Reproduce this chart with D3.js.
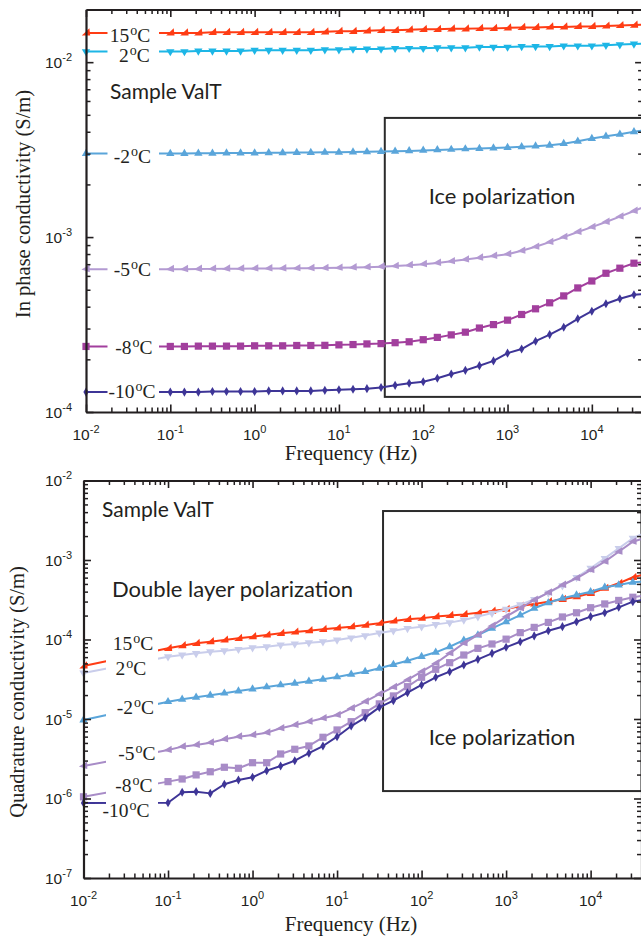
<!DOCTYPE html>
<html>
<head>
<meta charset="utf-8">
<script src="https://cdn.jsdelivr.net/npm/d3@7"></script>
<style>
  body { margin: 0; background: #fff; }
  svg { display: block; }
</style>
</head>
<body>
<svg id="chart" width="641" height="940"></svg>
<script>
// ---------- data ----------
// measurement frequencies (Hz)
const freqs = [0.01, 0.1, 0.147, 0.215, 0.316, 0.464, 0.681,
  1, 1.47, 2.15, 3.16, 4.64, 6.81,
  10, 14.7, 21.5, 31.6, 46.4, 68.1,
  100, 147, 215, 316, 464, 681,
  1000, 1470, 2150, 3160, 4640, 6810,
  10000, 14700, 21500, 31600, 46400];

const temperatures = ["15", "2", "-2", "-5", "-8", "-10"];

// in-phase conductivity (S/m)
const inPhase15 = [0.0147, 0.0147, 0.0147, 0.0147, 0.0148, 0.0148, 0.0148,
  0.0148, 0.0148, 0.0148, 0.0148, 0.0148, 0.0149,
  0.0150, 0.0150, 0.0151, 0.0152, 0.0152, 0.0153,
  0.0154, 0.0154, 0.0155, 0.0155, 0.0156, 0.0156,
  0.0157, 0.0158, 0.0158, 0.0159, 0.0159, 0.0160,
  0.0160, 0.0161, 0.0162, 0.0163, 0.0164];
const inPhase2 = [0.0115, 0.0115, 0.0115, 0.0116, 0.0116, 0.0116, 0.0116,
  0.0117, 0.0117, 0.0117, 0.0117, 0.0117, 0.0118,
  0.0118, 0.0119, 0.0119, 0.0119, 0.0120, 0.0120,
  0.0120, 0.0121, 0.0121, 0.0121, 0.0122, 0.0122,
  0.0122, 0.0123, 0.0123, 0.0123, 0.0124, 0.0124,
  0.0124, 0.0125, 0.0126, 0.0127, 0.0128];
const inPhaseM2 = [0.00300, 0.00300, 0.00300, 0.00301, 0.00301, 0.00302, 0.00302,
  0.00302, 0.00303, 0.00303, 0.00304, 0.00304, 0.00305,
  0.00305, 0.00306, 0.00307, 0.00308, 0.00309, 0.00311,
  0.00313, 0.00315, 0.00317, 0.00319, 0.00321, 0.00323,
  0.00325, 0.00328, 0.00331, 0.00335, 0.00342, 0.00353,
  0.00366, 0.00377, 0.00387, 0.00400, 0.00412];
const inPhaseM5 = [6.55e-4, 6.55e-4, 6.55e-4, 6.57e-4, 6.58e-4, 6.59e-4, 6.60e-4,
  6.61e-4, 6.62e-4, 6.62e-4, 6.63e-4, 6.64e-4, 6.65e-4,
  6.67e-4, 6.70e-4, 6.73e-4, 6.77e-4, 6.83e-4, 6.90e-4,
  7.00e-4, 7.12e-4, 7.27e-4, 7.44e-4, 7.62e-4, 7.80e-4,
  7.98e-4, 8.35e-4, 8.80e-4, 9.36e-4, 1.00e-3, 1.07e-3,
  1.14e-3, 1.22e-3, 1.31e-3, 1.41e-3, 1.52e-3];
const inPhaseM8 = [2.37e-4, 2.37e-4, 2.37e-4, 2.38e-4, 2.38e-4, 2.38e-4, 2.38e-4,
  2.39e-4, 2.39e-4, 2.39e-4, 2.40e-4, 2.40e-4, 2.405e-4,
  2.42e-4, 2.43e-4, 2.45e-4, 2.46e-4, 2.49e-4, 2.52e-4,
  2.59e-4, 2.67e-4, 2.76e-4, 2.86e-4, 3.02e-4, 3.16e-4,
  3.35e-4, 3.61e-4, 3.89e-4, 4.21e-4, 4.61e-4, 5.12e-4,
  5.61e-4, 6.21e-4, 6.64e-4, 7.09e-4, 7.20e-4];
const inPhaseM10 = [1.30e-4, 1.30e-4, 1.30e-4, 1.30e-4, 1.31e-4, 1.31e-4, 1.31e-4,
  1.31e-4, 1.32e-4, 1.32e-4, 1.32e-4, 1.32e-4, 1.33e-4,
  1.34e-4, 1.35e-4, 1.36e-4, 1.38e-4, 1.42e-4, 1.46e-4,
  1.49e-4, 1.56e-4, 1.65e-4, 1.73e-4, 1.84e-4, 1.96e-4,
  2.17e-4, 2.29e-4, 2.54e-4, 2.77e-4, 3.05e-4, 3.41e-4,
  3.77e-4, 4.16e-4, 4.44e-4, 4.68e-4, 4.75e-4];

// quadrature conductivity (S/m)
const quad15 = [4.65e-5, 7.74e-5, 8.36e-5, 8.96e-5, 9.38e-5, 9.86e-5, 1.035e-4,
  1.084e-4, 1.14e-4, 1.197e-4, 1.242e-4, 1.29e-4, 1.343e-4,
  1.396e-4, 1.45e-4, 1.52e-4, 1.60e-4, 1.71e-4, 1.795e-4,
  1.85e-4, 1.94e-4, 2.01e-4, 2.07e-4, 2.17e-4, 2.28e-4,
  2.40e-4, 2.64e-4, 2.80e-4, 2.99e-4, 3.20e-4, 3.45e-4,
  3.81e-4, 4.41e-4, 5.09e-4, 6.06e-4, 6.70e-4];
const quad2 = [3.8e-5, 6.08e-5, 6.38e-5, 6.70e-5, 7.03e-5, 7.23e-5, 7.53e-5,
  7.89e-5, 8.12e-5, 8.53e-5, 8.78e-5, 9.12e-5, 9.38e-5,
  9.86e-5, 1.05e-4, 1.12e-4, 1.21e-4, 1.29e-4, 1.38e-4,
  1.45e-4, 1.55e-4, 1.63e-4, 1.76e-4, 1.94e-4, 2.15e-4,
  2.40e-4, 2.75e-4, 3.20e-4, 3.85e-4, 4.75e-4, 6.05e-4,
  7.87e-4, 1.05e-3, 1.40e-3, 1.88e-3, 2.25e-3];
const quadM2 = [9.7e-6, 1.65e-5, 1.77e-5, 1.875e-5, 1.99e-5, 2.11e-5, 2.25e-5,
  2.38e-5, 2.53e-5, 2.68e-5, 2.81e-5, 2.98e-5, 3.16e-5,
  3.38e-5, 3.65e-5, 3.94e-5, 4.35e-5, 4.85e-5, 5.4e-5,
  6.1e-5, 6.9e-5, 8.1e-5, 9.8e-5, 1.14e-4, 1.38e-4,
  1.67e-4, 2.03e-4, 2.47e-4, 2.90e-4, 3.30e-4, 3.63e-4,
  3.99e-4, 4.54e-4, 4.85e-4, 5.24e-4, 5.40e-4];
const quadM5 = [2.56e-6, 4.07e-6, 4.49e-6, 4.71e-6, 5.04e-6, 5.56e-6, 5.99e-6,
  6.29e-6, 6.73e-6, 7.64e-6, 8.41e-6, 9.25e-6, 1.02e-5,
  1.12e-5, 1.36e-5, 1.65e-5, 2.05e-5, 2.51e-5, 3.10e-5,
  3.94e-5, 5.02e-5, 6.70e-5, 8.96e-5, 1.14e-4, 1.48e-4,
  1.94e-4, 2.47e-4, 3.14e-4, 3.88e-4, 4.85e-4, 5.89e-4,
  7.48e-4, 9.53e-4, 1.27e-3, 1.70e-3, 1.93e-3];
const quadM8 = [1.05e-6, 1.63e-6, 1.76e-6, 1.98e-6, 2.17e-6, 2.47e-6, 2.40e-6,
  2.82e-6, 2.82e-6, 3.63e-6, 4.16e-6, 4.58e-6, 5.89e-6,
  7.28e-6, 9.25e-6, 1.20e-5, 1.55e-5, 1.95e-5, 2.55e-5,
  3.35e-5, 4.22e-5, 5.11e-5, 6.38e-5, 7.74e-5, 8.78e-5,
  1.01e-4, 1.22e-4, 1.42e-4, 1.64e-4, 1.92e-4, 2.17e-4,
  2.51e-4, 2.80e-4, 3.10e-4, 3.40e-4, 3.63e-4];
const quadM10 = [8.8e-7, 8.85e-7, 1.20e-6, 1.22e-6, 1.16e-6, 1.51e-6, 1.71e-6,
  1.85e-6, 2.24e-6, 2.56e-6, 2.99e-6, 3.71e-6, 4.57e-6,
  5.99e-6, 8.16e-6, 1.04e-5, 1.40e-5, 1.70e-5, 2.14e-5,
  2.68e-5, 3.35e-5, 3.94e-5, 4.78e-5, 5.63e-5, 6.70e-5,
  7.98e-5, 9.38e-5, 1.11e-4, 1.29e-4, 1.45e-4, 1.67e-4,
  1.94e-4, 2.17e-4, 2.54e-4, 2.99e-4, 3.20e-4];

// axis decades (powers of ten)
const xTickExps = [-2, -1, 0, 1, 2, 3, 4];
const yTickExpsInPhase = [-4, -3, -2];
const yTickExpsQuad = [-7, -6, -5, -4, -3, -2];

// ---------- styling ----------
const ink = "#231f20";
const sansFont = "Lato, 'Open Sans', sans-serif";
const serifFont = "'Liberation Serif', 'DejaVu Serif', serif";
const tickFont = "'Liberation Sans', Arial, sans-serif";

const shapes = {
  flagRight: "M-4.2,2.6L4.2,2.6L3.4,-4.6Z",
  flagLeft: "M-4.6,0.4L3.6,-4.4L3.8,3Z",
  up: d3.symbol(d3.symbolTriangle, 30)(),
  down: d3.symbol(d3.symbolTriangle, 30)(),
  square: d3.symbol(d3.symbolSquare, 52)(),
  diamond: d3.symbol(d3.symbolDiamond, 24)()
};
const shapeRotation = { down: 180 };

const inPhaseColors = ["#ff3c14", "#1db6e6", "#5aa5da", "#b39ad2", "#a23f9d", "#3e3597"];
const quadColors = ["#ff3c14", "#c9cdeb", "#5aa5da", "#a88cc7", "#a88cc7", "#3e3597"];
const markerShapes = ["flagRight", "down", "up", "flagLeft", "square", "diamond"];

const svg = d3.select("#chart");
const defs = svg.append("defs");

function minorTicks(domain) {
  const out = [];
  const lo = Math.floor(Math.log10(domain[0])), hi = Math.ceil(Math.log10(domain[1]));
  for (let e = lo; e <= hi; e++) {
    for (let m = 2; m <= 9; m++) {
      const v = m * Math.pow(10, e);
      if (v > domain[0] * 1.001 && v < domain[1] * 0.999) out.push(v);
    }
  }
  return out;
}

function drawPanel(cfg) {
  const x = d3.scaleLog().domain(cfg.xDomain).range(cfg.xRange);
  const y = d3.scaleLog().domain(cfg.yDomain).range(cfg.yRange);
  const [xl, xr] = cfg.xRange;
  const [yb, yt] = cfg.yRange;
  const g = svg.append("g");

  // polarization box
  g.append("rect")
    .attr("x", x(cfg.box.f0)).attr("y", y(cfg.box.s1))
    .attr("width", xr - x(cfg.box.f0))
    .attr("height", y(cfg.box.s0) - y(cfg.box.s1))
    .attr("fill", "none").attr("stroke", "#2b2b2b").attr("stroke-width", 2);

  // series
  const clipId = cfg.id + "-clip";
  defs.append("clipPath").attr("id", clipId)
    .append("rect").attr("x", 0).attr("y", yt - 12)
    .attr("width", xr).attr("height", yb - yt + 24);
  const plot = g.append("g").attr("clip-path", `url(#${clipId})`);
  const line = d3.line().x(d => x(d.f)).y(d => y(d.v));

  cfg.series.forEach((vals, i) => {
    const pts = freqs.map((f, k) => ({ f, v: vals[k] }));
    plot.append("path").datum(pts)
      .attr("d", line).attr("fill", "none")
      .attr("stroke", cfg.colors[i]).attr("stroke-width", 2)
      .attr("stroke-linejoin", "round");
    const shape = markerShapes[i];
    plot.selectAll(null).data(pts).enter().append("path")
      .attr("d", shapes[shape])
      .attr("transform", d => `translate(${x(d.f)},${y(d.v)}) rotate(${shapeRotation[shape] || 0})`)
      .attr("fill", cfg.colors[i]);
  });

  // band behind the temperature labels
  g.append("rect")
    .attr("x", cfg.band[0]).attr("y", cfg.band[2])
    .attr("width", cfg.band[1] - cfg.band[0]).attr("height", cfg.band[3] - cfg.band[2])
    .attr("fill", "#fff");

  // temperature labels
  temperatures.forEach((t, i) => {
    const [lx, ly] = cfg.labelPos[i];
    const txt = g.append("text")
      .attr("x", lx).attr("y", ly).attr("text-anchor", "middle")
      .attr("font-family", serifFont).attr("font-size", 19.5).attr("fill", ink);
    txt.append("tspan").text(t);
    txt.append("tspan").attr("dy", -7).attr("font-size", 14).attr("dx", 1).text("o");
    txt.append("tspan").attr("dy", 7).text("C");
  });

  // axes: major and minor ticks on all four sides, pointing inward
  const xMajor = xTickExps.map(e => Math.pow(10, e));
  const yMajor = cfg.yTickExps.map(e => Math.pow(10, e));
  const xMinor = minorTicks(cfg.xDomain);
  const yMinor = minorTicks(cfg.yDomain);
  const axes = [
    [d3.axisBottom(x), `translate(0,${yb})`, xMajor, xMinor],
    [d3.axisTop(x), `translate(0,${yt})`, xMajor, xMinor],
    [d3.axisLeft(y), `translate(${xl},0)`, yMajor, yMinor],
    [d3.axisRight(y), `translate(${xr},0)`, yMajor, yMinor]
  ];
  axes.forEach(([ax, tr, major, minor]) => {
    const aMaj = g.append("g").attr("transform", tr)
      .call(ax.tickValues(major).tickSize(-7.5).tickSizeOuter(0).tickFormat(""));
    aMaj.select(".domain").attr("stroke", ink).attr("stroke-width", 2.2);
    aMaj.selectAll(".tick line").attr("stroke", ink).attr("stroke-width", 1.6);
    const aMin = g.append("g").attr("transform", tr)
      .call(ax.tickValues(minor).tickSize(-4.5).tickSizeOuter(0).tickFormat(""));
    aMin.select(".domain").remove();
    aMin.selectAll(".tick line").attr("stroke", ink).attr("stroke-width", 1.5);
  });

  // power-of-ten tick labels
  xTickExps.forEach(e => {
    const t = g.append("text")
      .attr("x", x(Math.pow(10, e))).attr("y", yb + 27.5)
      .attr("text-anchor", "middle")
      .attr("font-family", tickFont).attr("font-size", 15.5).attr("fill", ink);
    t.append("tspan").text("10");
    t.append("tspan").attr("dy", -7).attr("font-size", 11).text(String(e));
  });
  cfg.yTickExps.forEach(e => {
    const t = g.append("text")
      .attr("x", 72).attr("y", y(Math.pow(10, e)) + 5.5)
      .attr("text-anchor", "end")
      .attr("font-family", tickFont).attr("font-size", 15.5).attr("fill", ink);
    t.append("tspan").text("10");
    t.append("tspan").attr("dy", -7).attr("font-size", 11).text(String(e));
  });

  // axis titles
  g.append("text")
    .attr("x", cfg.xTitlePos[0]).attr("y", cfg.xTitlePos[1])
    .attr("text-anchor", "middle")
    .attr("font-family", serifFont).attr("font-size", 21).attr("fill", ink)
    .text("Frequency (Hz)");
  g.append("text")
    .attr("transform", `translate(${cfg.yTitlePos[0]},${cfg.yTitlePos[1]}) rotate(-90)`)
    .attr("text-anchor", "middle")
    .attr("font-family", serifFont).attr("font-size", 20.5).attr("fill", ink)
    .text(cfg.yTitle);

  // annotations
  cfg.notes.forEach(n => {
    g.append("text")
      .attr("x", n.x).attr("y", n.y)
      .attr("text-anchor", n.anchor || "start")
      .attr("font-family", sansFont).attr("font-size", n.size).attr("fill", ink)
      .text(n.text);
  });
}

// In-phase conductivity panel
drawPanel({
  id: "inphase",
  xDomain: [0.01, 4e4], xRange: [86, 642.6],
  yDomain: [1e-4, 0.02], yRange: [412, 9.5],
  yTickExps: yTickExpsInPhase,
  series: [inPhase15, inPhase2, inPhaseM2, inPhaseM5, inPhaseM8, inPhaseM10],
  colors: inPhaseColors,
  box: { f0: 35, s0: 1.22e-4, s1: 4.8e-3 },
  band: [107.5, 159, 20, 405],
  labelPos: [[130, 42], [134.5, 62], [132.5, 163], [132.5, 276], [134, 354], [132, 398]],
  xTitlePos: [351, 460],
  yTitlePos: [30, 204],
  yTitle: "In phase conductivity (S/m)",
  notes: [
    { text: "Sample ValT", x: 110, y: 99, size: 21 },
    { text: "Ice polarization", x: 502, y: 204, size: 22, anchor: "middle" }
  ]
});

// Quadrature conductivity panel
drawPanel({
  id: "quad",
  xDomain: [0.01, 4e4], xRange: [83.5, 641.5],
  yDomain: [1e-7, 1e-2], yRange: [878, 480.5],
  yTickExps: yTickExpsQuad,
  series: [quad15, quad2, quadM2, quadM5, quadM8, quadM10],
  colors: quadColors,
  box: { f0: 35, s0: 1.24e-6, s1: 4.13e-3 },
  band: [106, 158, 628, 824],
  labelPos: [[133, 650], [131, 674.5], [135.5, 714], [137, 760], [134, 792], [126, 817]],
  xTitlePos: [351, 931],
  yTitlePos: [24, 692],
  yTitle: "Quadrature conductivity (S/m)",
  notes: [
    { text: "Sample ValT", x: 102, y: 517, size: 21 },
    { text: "Double layer polarization", x: 112, y: 597, size: 22 },
    { text: "Ice polarization", x: 502, y: 745, size: 22, anchor: "middle" }
  ]
});
</script>
</body>
</html>
